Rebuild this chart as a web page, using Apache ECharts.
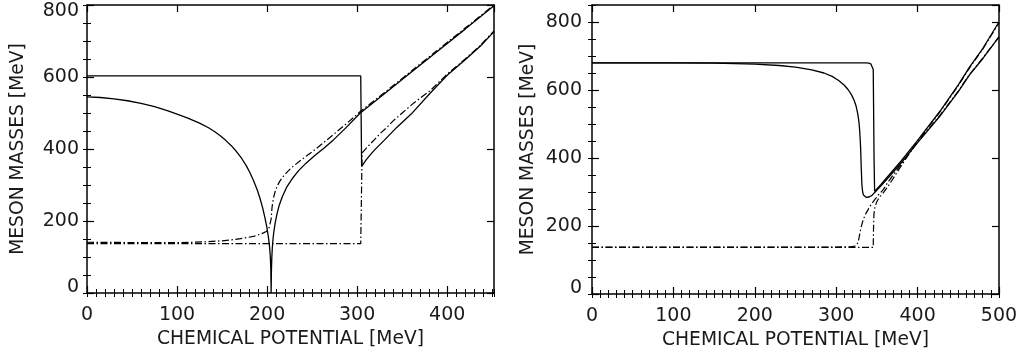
<!DOCTYPE html>
<html>
<head>
<meta charset="utf-8">
<script src="https://cdn.jsdelivr.net/npm/echarts@6/dist/echarts.min.js"></script>
<style>
  html, body { margin: 0; padding: 0; background: #fff; }
  #chart { width: 1021px; height: 360px; }
</style>
</head>
<body>
<div id="chart"></div>
<script>
// ---------- axis ranges / ticks ----------
const leftXRange = [0, 452];
const leftYRange = [0, 800];
const rightXRange = [0, 500];
const rightYRange = [0, 850];
const xMajor = 100, xMinor = 10, yMajor = 200, yMinor = 50;

const xAxisTitle = 'CHEMICAL POTENTIAL [MeV]';
const yAxisTitle = 'MESON MASSES [MeV]';

// ---------- left panel data ----------
const L_stepX = [0, 304, 305, 310, 315, 320, 330, 344, 360, 381, 400, 420, 437, 452];
const L_stepY = [603, 603, 352, 370, 385, 399, 424, 460, 497, 555, 605, 648, 686, 726];

const L_sigmaX = [0, 15, 30, 45, 60, 75, 90, 100, 112, 125, 135, 142, 148, 154, 160, 166, 172, 177, 181, 185, 189, 192, 195, 197.5, 199.5, 201.2, 202.5, 203.5, 204.1, 204.5, 204.8, 205.2, 205.8, 206.6, 207.5, 209, 211, 213.5, 217, 222, 228, 235, 243, 252, 263, 274, 288, 303.5, 330, 360, 390, 420, 452];
const L_sigmaY = [545, 543, 539, 534, 527, 518, 506, 497, 486, 472, 459, 448, 437, 424, 410, 393, 373, 353, 334, 312, 287, 264, 237, 210, 186, 160, 135, 105, 70, 0, 60, 95, 125, 150, 170, 195, 220, 244, 268, 295, 318, 340, 360, 380, 402, 426, 460, 500, 553, 613, 673, 733, 798];

const L_ddUpX = [0, 60, 104, 130, 150, 165, 178, 186, 192, 196, 199, 201.5, 203.5, 204.5, 205.5, 206.5, 207.5, 209, 211, 214, 218, 223, 229, 236, 244, 252, 263, 274, 288, 303.5, 330, 360, 390, 420, 452];
const L_ddUpY = [141, 140, 140, 142, 145, 149, 154, 158, 163, 167, 171, 175, 180, 205, 238, 255, 268, 282, 296, 310, 324, 338, 352, 366, 381, 396, 418, 441, 470, 504, 556, 616, 676, 736, 800];

const L_ddLowX = [0, 304, 305.5, 310, 315, 320, 326, 333, 340, 350, 363, 381, 400, 420, 437, 452];
const L_ddLowY = [137, 137, 389, 402, 415, 428, 444, 460, 478, 500, 528, 562, 608, 650, 688, 728];

// ---------- right panel data ----------
const R_stepX = [0, 330, 336, 340, 342.5, 344.5, 345.5, 346.5, 347.2, 355, 365, 380, 400, 427, 450, 464, 480, 500];
const R_stepY = [680, 680, 680, 679, 677, 672, 660, 400, 302, 322, 350, 392, 452, 536, 615, 668, 722, 800];

const R_sigmaX = [0, 100, 150, 200, 230, 250, 270, 285, 295, 303, 310, 315, 319, 322, 324.5, 326.5, 328, 329, 330, 330.8, 331.6, 332.5, 333.5, 335, 337, 339, 341, 344, 347, 355, 365, 380, 400, 427, 450, 464, 480, 500];
const R_sigmaY = [680, 680, 679, 676, 672, 667, 659, 650, 640, 628, 614, 600, 585, 570, 552, 530, 505, 475, 430, 370, 320, 300, 291, 286, 284, 284, 286, 290, 298, 318, 345, 386, 445, 522, 595, 645, 692, 756];

const R_dd1X = [0, 300, 318, 323, 325.5, 327.5, 329, 331, 333.3, 336, 339.4, 343, 347.6, 352, 357.8, 364, 370, 382, 400, 427, 450, 464, 480, 500];
const R_dd1Y = [138, 138, 139, 141, 145, 158, 178, 200, 219, 235, 249, 264, 278, 292, 307, 330, 350, 388, 447, 524, 597, 646, 694, 756];

const R_dd2X = [0, 345.5, 345.9, 346.4, 347.2, 348.5, 350, 352, 354, 358, 364, 370, 382, 400, 427, 450, 464, 480, 500];
const R_dd2Y = [137, 137, 200, 235, 250, 262, 272, 280, 287, 298, 318, 340, 385, 450, 534, 613, 666, 720, 798];

// ---------- helpers ----------
function zip(xs, ys) { return xs.map((x, i) => [x, ys[i]]); }

const FONT = 'DejaVu Sans';
const TXT = '#1a1a1a';
const FRAME = '#000';
const TICK_FS = 19;
const TITLE_FS = 18.7;

function xAxes(grid, range) {
  const common = { type: 'value', gridIndex: grid, min: range[0], max: range[1], splitLine: { show: false } };
  return [
    Object.assign({}, common, {
      position: 'bottom', interval: xMajor,
      axisLine: { show: true, onZero: false, lineStyle: { color: FRAME, width: 1.5 } },
      axisTick: { show: true, inside: true, length: 7, lineStyle: { color: FRAME, width: 1.2 } },
      axisLabel: { show: true, margin: 13, fontFamily: FONT, fontSize: TICK_FS, color: TXT, showMaxLabel: range[1] % xMajor === 0 },
      name: xAxisTitle, nameLocation: 'middle', nameGap: 37,
      nameTextStyle: { fontFamily: FONT, fontSize: TITLE_FS, color: TXT }
    }),
    Object.assign({}, common, {
      position: 'bottom', interval: xMinor,
      axisLine: { show: false },
      axisTick: { show: true, inside: true, length: 4, lineStyle: { color: FRAME, width: 1 } },
      axisLabel: { show: false }
    }),
    Object.assign({}, common, {
      position: 'top', interval: xMajor,
      axisLine: { show: true, onZero: false, lineStyle: { color: FRAME, width: 1.5 } },
      axisTick: { show: true, inside: true, length: 7, lineStyle: { color: FRAME, width: 1.2 } },
      axisLabel: { show: false }
    }),
    Object.assign({}, common, {
      position: 'top', interval: xMinor,
      axisLine: { show: false },
      axisTick: { show: true, inside: true, length: 4, lineStyle: { color: FRAME, width: 1 } },
      axisLabel: { show: false }
    })
  ];
}

function yAxes(grid, range, nameGap, labelMargin) {
  const common = { type: 'value', gridIndex: grid, min: range[0], max: range[1], splitLine: { show: false } };
  return [
    Object.assign({}, common, {
      position: 'left', interval: yMajor,
      axisLine: { show: true, onZero: false, lineStyle: { color: FRAME, width: 1.5 } },
      axisTick: { show: true, inside: true, length: 7, lineStyle: { color: FRAME, width: 1.2 } },
      axisLabel: {
        show: true, margin: labelMargin, fontFamily: FONT, fontSize: TICK_FS, color: TXT, lineHeight: 12,
        showMaxLabel: range[1] % yMajor === 0,
        verticalAlignMinLabel: 'bottom', verticalAlignMaxLabel: 'top'
      },
      name: yAxisTitle, nameLocation: 'middle', nameRotate: 90, nameGap: nameGap,
      nameTextStyle: { fontFamily: FONT, fontSize: TITLE_FS, color: TXT }
    }),
    Object.assign({}, common, {
      position: 'left', interval: yMinor,
      axisLine: { show: false },
      axisTick: { show: true, inside: true, length: 4, lineStyle: { color: FRAME, width: 1 } },
      axisLabel: { show: false }
    }),
    Object.assign({}, common, {
      position: 'right', interval: yMajor,
      axisLine: { show: true, onZero: false, lineStyle: { color: FRAME, width: 1.5 } },
      axisTick: { show: true, inside: true, length: 7, lineStyle: { color: FRAME, width: 1.2 } },
      axisLabel: { show: false }
    }),
    Object.assign({}, common, {
      position: 'right', interval: yMinor,
      axisLine: { show: false },
      axisTick: { show: true, inside: true, length: 4, lineStyle: { color: FRAME, width: 1 } },
      axisLabel: { show: false }
    })
  ];
}

const SOLID = { color: '#000', width: 1.3, type: 'solid' };
const DASHDOT = { color: '#000', width: 1.2, type: [7, 2.5, 1.5, 2.5] };

function line(xi, yi, data, style) {
  return {
    type: 'line', xAxisIndex: xi, yAxisIndex: yi, data: data,
    showSymbol: false, symbol: 'none', lineStyle: style, silent: true,
    animation: false, clip: true, smooth: false
  };
}

const option = {
  animation: false,
  backgroundColor: '#fff',
  grid: [
    { left: 87, top: 5, width: 407, height: 288, containLabel: false },
    { left: 592, top: 5, width: 407, height: 289, containLabel: false }
  ],
  xAxis: [].concat(xAxes(0, leftXRange), xAxes(1, rightXRange)),
  yAxis: [].concat(yAxes(0, leftYRange, 59, 8), yAxes(1, rightYRange, 54, 10)),
  series: [
    line(0, 0, zip(L_stepX, L_stepY), SOLID),
    line(0, 0, zip(L_sigmaX, L_sigmaY), SOLID),
    line(0, 0, zip(L_ddUpX, L_ddUpY), DASHDOT),
    line(0, 0, zip(L_ddLowX, L_ddLowY), DASHDOT),
    line(4, 4, zip(R_stepX, R_stepY), SOLID),
    line(4, 4, zip(R_sigmaX, R_sigmaY), SOLID),
    line(4, 4, zip(R_dd1X, R_dd1Y), DASHDOT),
    line(4, 4, zip(R_dd2X, R_dd2Y), DASHDOT)
  ]
};

const chart = echarts.init(document.getElementById('chart'), null, { renderer: 'canvas' });
chart.setOption(option);
</script>
</body>
</html>
